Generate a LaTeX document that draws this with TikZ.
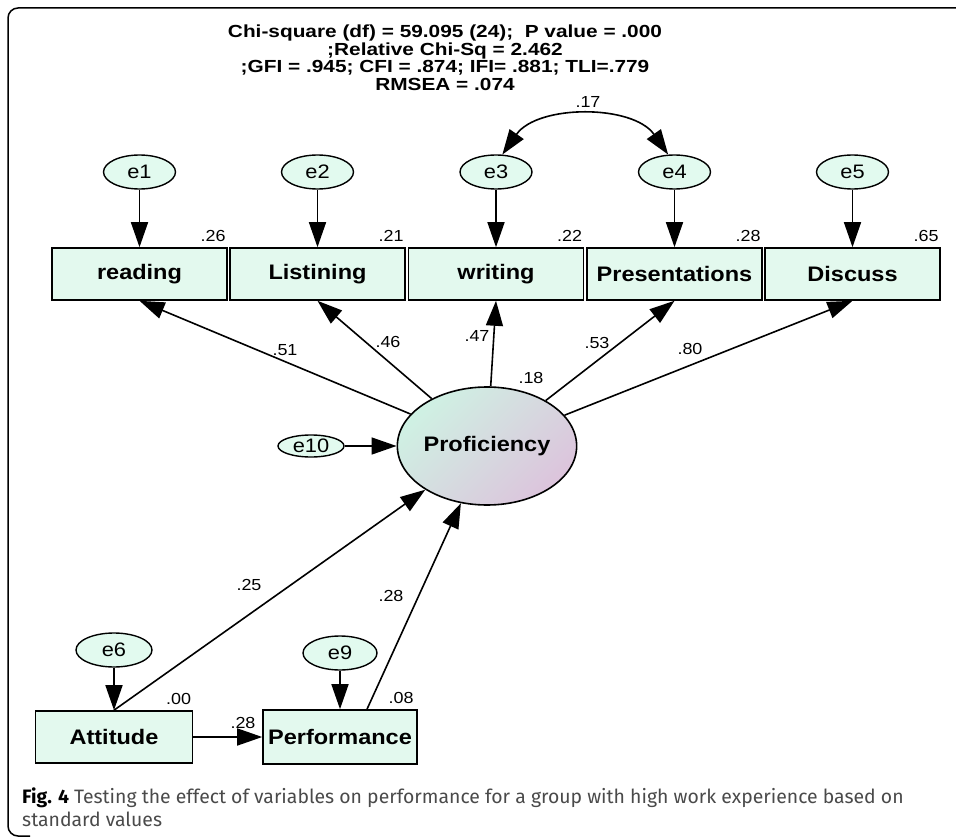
\documentclass[tikz,border=0pt]{standalone}
\usepackage{fontspec}
\setmainfont{Liberation Sans}[FakeStretch=1.12]
\newfontfamily\headfont{Liberation Sans}[FakeStretch=1.19]
\newfontfamily\capfont{Fira Sans}
\usetikzlibrary{arrows.meta,shapes.geometric}

\definecolor{boxfill}{HTML}{E3F9EE}
\definecolor{errfill}{HTML}{E2FAEF}
\definecolor{profA}{HTML}{CFF1E3}
\definecolor{profB}{HTML}{DCC4DC}
\definecolor{captext}{HTML}{4A4A4A}

\begin{document}
\begin{tikzpicture}[x=1pt,y=-1pt,
    obs/.style={draw, line width=1.6, fill=boxfill, inner sep=0,
      minimum width=175, minimum height=52,
      font=\bfseries\fontsize{21}{24}\selectfont},
    err/.style={ellipse, draw, line width=1.4, fill=errfill, inner sep=0,
      minimum width=72, minimum height=34, font=\fontsize{19.5}{21}\selectfont},
    latent/.style={ellipse, draw, line width=1.6, inner sep=0,
      top color=profA, bottom color=profB, shading angle=45,
      minimum width=172, minimum height=118,
      font=\bfseries\fontsize{21}{24}\selectfont},
    coef/.style={inner sep=0, font=\fontsize{16}{18}\selectfont},
    causal/.style={line width=1.6, -{Triangle[length=25pt,width=17pt]}},
    head/.style={anchor=base, inner sep=0, font=\headfont\bfseries\fontsize{17.5}{19}\selectfont}]

  \useasboundingbox (0,0) rectangle (956,837);
  % frame
  \draw[line width=1.5, rounded corners=10] (956,8) -- (8,8) -- (8,836) -- (30,836);

  % fit indices
  \node[head] at (445,38) {Chi-square (df) = 59.095 (24);\ \ P value = .000};
  \node[head] at (445,55.5) {;Relative Chi-Sq = 2.462};
  \node[head] at (445,73) {;GFI = .945; CFI = .874; IFI= .881; TLI=.779};
  \node[head] at (445,90.5) {RMSEA = .074};

  % indicators with their errors
  \foreach \name/\txt/\x/\err/\rsq in {read/reading/139.5/1/.26, list/Listining/317.5/2/.21,
      writ/writing/496/3/.22, pres/Presentations/674.5/4/.28, disc/Discuss/852.5/5/.65}
  {
    \node[obs] (\name) at (\x,274) {\txt};
    \node[err] (e\err) at (\x,172) {e\err};
    \draw[causal] (e\err) -- (\name);
    \node[coef, anchor=south east] at ([xshift=-2pt,yshift=5pt]\name.north east) {\rsq};
  }

  % latent factor
  \node[latent] (prof) at (487,446) {Proficiency};
  \node[err, minimum width=66, minimum height=22] (e10) at (311,446) {e10};
  \draw[causal] (e10) -- (prof);
  \node[coef] at (531,378) {.18};

  \foreach \name in {read,list,writ,pres,disc}
    \draw[causal] (prof) -- (\name.south);
  \node[coef] at (285,350) {.51};
  \node[coef] at (388,342) {.46};
  \node[coef] at (477,336) {.47};
  \node[coef] at (597,343) {.53};
  \node[coef] at (690,349) {.80};

  % covariance e3 e4
  \draw[line width=1.6, {Triangle[length=25pt,width=17pt]}-{Triangle[length=25pt,width=17pt]}]
    (e3.70) to[out=55, in=125, looseness=0.95] (e4.110);
  \node[coef] at (588,102) {.17};

  % predictors
  \node[obs, minimum width=157] (att) at (114,737) {Attitude};
  \node[obs, minimum width=154, minimum height=54] (perf) at (340,737) {Performance};
  \node[err, minimum width=76] (e6) at (114,650) {e6};
  \node[err, minimum width=74] (e9) at (340,653) {e9};
  \draw[causal] (e6) -- (att);
  \draw[causal] (e9) -- (perf);
  \draw[causal] (att) -- (perf);
  \draw[causal] (att.north) -- (prof);
  \draw[causal] ([xshift=27pt]perf.north) -- (prof);
  \node[coef, anchor=south east] at ([xshift=-2pt,yshift=5pt]att.north east) {.00};
  \node[coef, anchor=south east] at ([xshift=-4pt,yshift=5pt]perf.north east) {.08};
  \node[coef] at (243,723) {.28};
  \node[coef] at (249,585) {.25};
  \node[coef] at (391,596) {.28};

  % caption
  \node[anchor=base west, inner sep=0, text=captext, font=\capfont\fontsize{19.4}{22}\selectfont]
    at (22,803) {{\bfseries\color{black}Fig. 4} Testing the effect of variables on performance for a group with high work experience based on};
  \node[anchor=base west, inner sep=0, text=captext, font=\capfont\fontsize{19.4}{22}\selectfont]
    at (22,826) {standard values};
\end{tikzpicture}
\end{document}
